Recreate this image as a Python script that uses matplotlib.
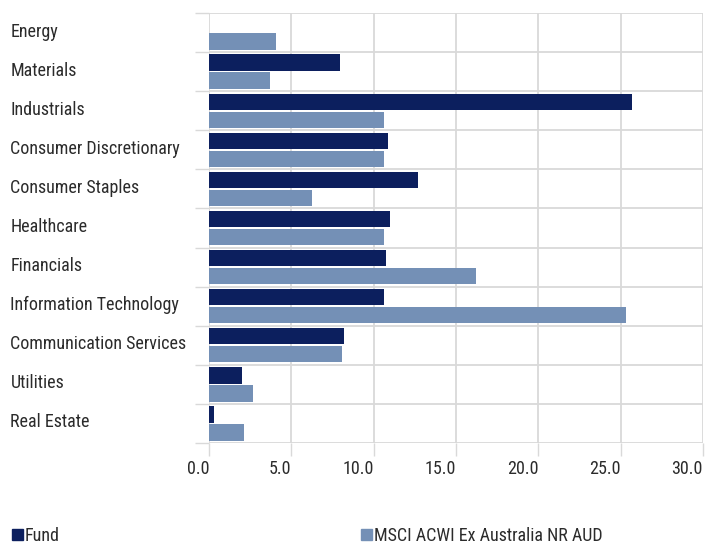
import numpy as np
import matplotlib
matplotlib.use('Agg')
from matplotlib import pyplot as plt
from matplotlib.patches import Patch
from matplotlib.transforms import ScaledTranslation

# sector weights (%)
sectors = ['Energy', 'Materials', 'Industrials', 'Consumer Discretionary',
           'Consumer Staples', 'Healthcare', 'Financials',
           'Information Technology', 'Communication Services',
           'Utilities', 'Real Estate']
fund = [0.0, 7.95, 25.7, 10.9, 12.7, 11.0, 10.75, 10.6, 8.2, 2.0, 0.3]
bench = [4.05, 3.7, 10.6, 10.6, 6.25, 10.6, 16.2, 25.35, 8.05, 2.7, 2.1]
xticks = [0, 5, 10, 15, 20, 25, 30]

navy = '#0c1f5e'
light = '#7490b6'
grid_c = '#d9d9d9'
text_c = '#2b2b2b'
fs = 13

plt.rcParams['font.family'] = ['Roboto Condensed', 'Roboto', 'DejaVu Sans']
plt.rcParams['font.size'] = fs

fig = plt.figure(figsize=(7.18, 5.48), dpi=100)
ax = fig.add_axes([209/718, 1 - 443/548, (703 - 209)/718, (443 - 13)/548])

y = np.arange(len(sectors))
h = 0.42
ax.barh(y - 0.23, fund, height=h, color=navy, zorder=3)
ax.barh(y + 0.23, bench, height=h, color=light, zorder=3)

ax.set_xlim(0, 30)
ax.set_ylim(len(sectors) - 0.5, -0.5)

# x axis: gridlines with stubs below, labels right-aligned to the line
ax.set_xticks(xticks)
ax.set_xticklabels(['%.1f' % v for v in xticks], ha='right')
ax.tick_params(axis='x', length=9, width=1, color=grid_c, pad=3,
               labelcolor=text_c, labelsize=fs)
ax.xaxis.grid(True, color=grid_c, linewidth=1.3, zorder=0)

# y axis: boundaries as minor ticks, labels at centres
ax.set_yticks(y)
ax.set_yticklabels(sectors, ha='left', va='center_baseline')
ax.set_yticks(np.arange(len(sectors) + 1) - 0.5, minor=True)
ax.tick_params(axis='y', which='major', length=0, pad=143, labelcolor=text_c,
               labelsize=fs)
ax.tick_params(axis='y', which='minor', length=10, width=1, color=grid_c)
ax.yaxis.grid(True, which='minor', color=grid_c, linewidth=1.3, zorder=0)
# nudge the category labels up a little
shift = ScaledTranslation(0, 3/100, fig.dpi_scale_trans)
for lab in ax.get_yticklabels():
    lab.set_transform(lab.get_transform() + shift)

for s in ax.spines.values():
    s.set_visible(False)

# legend
fig.legend(handles=[Patch(color=navy, label='Fund')],
           loc='lower left', bbox_to_anchor=(-4/718, -13/548),
           frameon=False, handlelength=0.6, handleheight=0.6,
           handletextpad=0.1, fontsize=fs, labelcolor=text_c)
fig.legend(handles=[Patch(color=light, label='MSCI ACWI Ex Australia NR AUD')],
           loc='lower left', bbox_to_anchor=(345/718, -13/548),
           frameon=False, handlelength=0.6, handleheight=0.6,
           handletextpad=0.1, fontsize=fs, labelcolor=text_c)

plt.savefig('out.png', dpi=100, facecolor='white')
